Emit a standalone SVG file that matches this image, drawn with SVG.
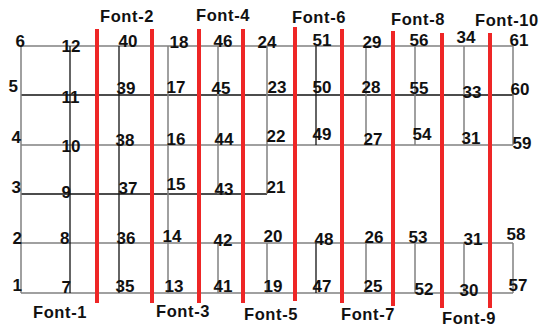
<svg xmlns="http://www.w3.org/2000/svg" width="542" height="327" viewBox="0 0 542 327">
<style>
.g{stroke:#808080;stroke-width:1.5;fill:none}
.k{stroke:#111;stroke-width:1.3;fill:none}
.r{stroke:#ee2626;stroke-width:4;fill:none}
.n{font-family:"Liberation Sans",Arial,sans-serif;font-weight:bold;font-size:17px;fill:#111}
.f{font-family:"Liberation Sans",Arial,sans-serif;font-weight:bold;font-size:16.5px;letter-spacing:0.6px;fill:#111}
</style>
<rect width="542" height="327" fill="#fff"/>
<g id="connectors">
<line class="g" x1="21" y1="46" x2="513" y2="46"/>
<line class="k" x1="21" y1="95" x2="513" y2="95"/>
<line class="g" x1="21" y1="145" x2="513" y2="145"/>
<line class="k" x1="21" y1="194" x2="267" y2="194"/>
<line class="g" x1="21" y1="243" x2="513" y2="243"/>
<line class="g" x1="21" y1="293" x2="513" y2="293"/>
<line class="g" x1="21" y1="46" x2="21" y2="293"/>
<line class="k" x1="70" y1="46" x2="70" y2="293"/>
<line class="k" x1="119" y1="46" x2="119" y2="293"/>
<line class="g" x1="168" y1="46" x2="168" y2="293"/>
<line class="g" x1="218" y1="46" x2="218" y2="194"/>
<line class="g" x1="218" y1="243" x2="218" y2="293"/>
<line class="g" x1="267" y1="46" x2="267" y2="194"/>
<line class="g" x1="267" y1="243" x2="267" y2="293"/>
<line class="k" x1="316" y1="46" x2="316" y2="145"/>
<line class="k" x1="316" y1="243" x2="316" y2="293"/>
<line class="g" x1="366" y1="46" x2="366" y2="145"/>
<line class="g" x1="366" y1="243" x2="366" y2="293"/>
<line class="g" x1="415" y1="46" x2="415" y2="145"/>
<line class="g" x1="415" y1="243" x2="415" y2="293"/>
<line class="g" x1="464" y1="46" x2="464" y2="145"/>
<line class="g" x1="464" y1="243" x2="464" y2="293"/>
<line class="g" x1="513" y1="46" x2="513" y2="145"/>
<line class="g" x1="513" y1="243" x2="513" y2="293"/>
</g>
<g id="separators">
<line class="r" x1="97" y1="29" x2="97" y2="303"/>
<line class="r" x1="152" y1="29" x2="152" y2="303"/>
<line class="r" x1="199" y1="29" x2="199" y2="303"/>
<line class="r" x1="243" y1="29" x2="243" y2="303"/>
<line class="r" x1="295" y1="27" x2="295" y2="301"/>
<line class="r" x1="342" y1="29" x2="342" y2="303"/>
<line class="r" x1="393" y1="31" x2="393" y2="306"/>
<line class="r" x1="442" y1="33" x2="442" y2="308"/>
<line class="r" x1="490" y1="33" x2="490" y2="308"/>
</g>
<g id="fonts">
<text class="f" x="33" y="317.5">Font-1</text>
<text class="f" x="100" y="21.5">Font-2</text>
<text class="f" x="156" y="317">Font-3</text>
<text class="f" x="196" y="20.5">Font-4</text>
<text class="f" x="244" y="320">Font-5</text>
<text class="f" x="292" y="22.5">Font-6</text>
<text class="f" x="341" y="320">Font-7</text>
<text class="f" x="391" y="25">Font-8</text>
<text class="f" x="442" y="324">Font-9</text>
<text class="f" x="475" y="26">Font-10</text>
</g>
<g id="n1"><text class="n" x="12.5" y="291">1</text></g>
<g id="n2"><text class="n" x="12.5" y="244">2</text></g>
<g id="n3"><text class="n" x="11.5" y="193">3</text></g>
<g id="n4"><text class="n" x="11.5" y="143">4</text></g>
<g id="n5"><text class="n" x="8.5" y="92">5</text></g>
<g id="n6"><text class="n" x="15.5" y="46.5">6</text></g>
<g id="n7"><text class="n" x="61.5" y="292.5">7</text></g>
<g id="n8"><text class="n" x="60" y="244">8</text></g>
<g id="n9"><text class="n" x="61.5" y="197.5">9</text></g>
<g id="n10"><text class="n" x="61.5" y="151.5">10</text></g>
<g id="n11"><text class="n" x="61.5" y="102.5">11</text></g>
<g id="n12"><text class="n" x="61.5" y="52">12</text></g>
<g id="n13"><text class="n" x="164.5" y="291.5">13</text></g>
<g id="n14"><text class="n" x="162.5" y="241.5">14</text></g>
<g id="n15"><text class="n" x="166.5" y="190">15</text></g>
<g id="n16"><text class="n" x="166.5" y="145">16</text></g>
<g id="n17"><text class="n" x="166.5" y="93">17</text></g>
<g id="n18"><text class="n" x="169.5" y="47.5">18</text></g>
<g id="n19"><text class="n" x="263.5" y="291.5">19</text></g>
<g id="n20"><text class="n" x="263.5" y="241.5">20</text></g>
<g id="n21"><text class="n" x="266.5" y="193">21</text></g>
<g id="n22"><text class="n" x="266.5" y="141.5">22</text></g>
<g id="n23"><text class="n" x="267.5" y="92.5">23</text></g>
<g id="n24"><text class="n" x="257.5" y="47.5">24</text></g>
<g id="n25"><text class="n" x="363.5" y="292">25</text></g>
<g id="n26"><text class="n" x="364.5" y="243">26</text></g>
<g id="n27"><text class="n" x="363.5" y="145">27</text></g>
<g id="n28"><text class="n" x="361.5" y="93">28</text></g>
<g id="n29"><text class="n" x="362.5" y="48">29</text></g>
<g id="n30"><text class="n" x="459.5" y="295.5">30</text></g>
<g id="n31a"><text class="n" x="463.5" y="245">31</text></g>
<g id="n31b"><text class="n" x="461.5" y="144">31</text></g>
<g id="n33"><text class="n" x="462.5" y="97.5">33</text></g>
<g id="n34"><text class="n" x="456.5" y="43">34</text></g>
<g id="n35"><text class="n" x="115.5" y="292">35</text></g>
<g id="n36"><text class="n" x="116.5" y="244">36</text></g>
<g id="n37"><text class="n" x="118.5" y="194">37</text></g>
<g id="n38"><text class="n" x="115.5" y="145.5">38</text></g>
<g id="n39"><text class="n" x="116.5" y="94">39</text></g>
<g id="n40"><text class="n" x="118.5" y="46.5">40</text></g>
<g id="n41"><text class="n" x="213.5" y="291.5">41</text></g>
<g id="n42"><text class="n" x="213.5" y="245.5">42</text></g>
<g id="n43"><text class="n" x="214.5" y="195">43</text></g>
<g id="n44"><text class="n" x="214.5" y="145">44</text></g>
<g id="n45"><text class="n" x="211.5" y="94">45</text></g>
<g id="n46"><text class="n" x="213.5" y="46.5">46</text></g>
<g id="n47"><text class="n" x="312.5" y="291.5">47</text></g>
<g id="n48"><text class="n" x="314.5" y="245">48</text></g>
<g id="n49"><text class="n" x="312.5" y="140">49</text></g>
<g id="n50"><text class="n" x="312.5" y="93">50</text></g>
<g id="n51"><text class="n" x="312.5" y="46">51</text></g>
<g id="n52"><text class="n" x="414.5" y="295">52</text></g>
<g id="n53"><text class="n" x="408.5" y="242.5">53</text></g>
<g id="n54"><text class="n" x="412.5" y="140">54</text></g>
<g id="n55"><text class="n" x="409.5" y="94">55</text></g>
<g id="n56"><text class="n" x="409.5" y="46">56</text></g>
<g id="n57"><text class="n" x="508.5" y="290.5">57</text></g>
<g id="n58"><text class="n" x="506.5" y="240">58</text></g>
<g id="n59"><text class="n" x="512.5" y="149">59</text></g>
<g id="n60"><text class="n" x="510.5" y="95">60</text></g>
<g id="n61"><text class="n" x="509.5" y="46">61</text></g>
</svg>
